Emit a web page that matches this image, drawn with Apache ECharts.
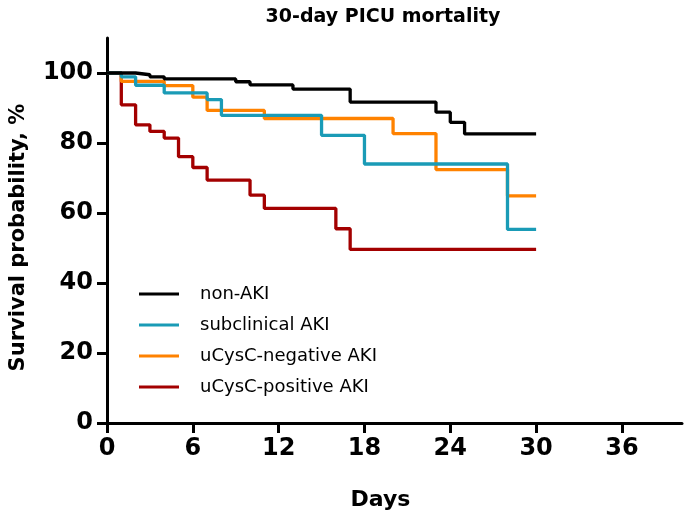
<!DOCTYPE html>
<html>
<head>
<meta charset="utf-8">
<script src="https://cdn.jsdelivr.net/npm/echarts@6/dist/echarts.min.js"></script>
<style>html,body{margin:0;padding:0;background:#fff}#c{width:685px;height:521px}</style>
</head>
<body>
<div id="c"></div>
<script>
// Kaplan-Meier step data: [day, survival %]
const nonAKI = [[0,100],[2,99.5],[3,98.9],[4,98.3],[9,97.5],[10,96.6],[13,95.4],[17,91.7],[23,88.8],[24,85.9],[25,82.6],[30,82.6]];
const subclinicalAKI = [[0,100],[1,98.9],[2,96.5],[4,94.3],[7,92.4],[8,87.9],[15,82.2],[18,74.0],[28,55.3],[30,55.3]];
const uCysCnegAKI = [[0,100],[1,97.6],[4,96.4],[6,93.1],[7,89.3],[11,87.0],[20,82.7],[23,72.4],[28,64.9],[30,64.9]];
const uCysCposAKI = [[0,100],[1,90.9],[2,85.2],[3,83.3],[4,81.4],[5,76.1],[6,73.0],[7,69.4],[10,65.1],[11,61.3],[16,55.5],[17,49.6],[30,49.6]];
const seriesNames = ['non-AKI','subclinical AKI','uCysC-negative AKI','uCysC-positive AKI'];
const xTicks = [0,6,12,18,24,30,36];
const yTicks = [0,20,40,60,80,100];

const colors = {'non-AKI':'#000000','subclinical AKI':'#1a9bb6','uCysC-negative AKI':'#ff8200','uCysC-positive AKI':'#a30000'};
const dataMap = {'non-AKI':nonAKI,'subclinical AKI':subclinicalAKI,'uCysC-negative AKI':uCysCnegAKI,'uCysC-positive AKI':uCysCposAKI};
const drawOrder = ['uCysC-positive AKI','uCysC-negative AKI','subclinical AKI','non-AKI'];

const chart = echarts.init(document.getElementById('c'), null, {renderer:'canvas'});
const bold = 'DejaVu Sans, sans-serif';
const reg = 'DejaVu Sans, sans-serif';
chart.setOption({
  animation:false,
  backgroundColor:'#fff',
  title:{text:'30-day PICU mortality',left:378,top:3,textAlign:'center',
    textStyle:{fontFamily:bold,fontWeight:'bold',fontSize:19,color:'#000'}},
  legend:{orient:'vertical',left:134,top:279,itemWidth:40,itemHeight:3,itemGap:11,
    icon:'rect',data:seriesNames,selectedMode:false,
    textStyle:{fontFamily:reg,fontSize:18,color:'#000',padding:[0,0,0,16],lineHeight:20}},
  grid:{left:103,right:3,top:38,bottom:98,containLabel:false},
  xAxis:{type:'value',min:0,max:40.2,
    name:'Days',nameLocation:'middle',nameGap:66,
    nameTextStyle:{fontFamily:bold,fontWeight:'bold',fontSize:22,color:'#000',padding:[0,28,0,0]},
    axisLine:{lineStyle:{color:'#000',width:3}},
    axisTick:{customValues:xTicks,length:10,lineStyle:{color:'#000',width:3}},
    axisLabel:{customValues:xTicks,margin:14,fontFamily:bold,fontWeight:'bold',fontSize:24,color:'#000'},
    splitLine:{show:false}},
  yAxis:{type:'value',min:0,max:110,
    name:'Survival probability, %',nameLocation:'middle',nameGap:78,
    nameTextStyle:{fontFamily:bold,fontWeight:'bold',fontSize:21,color:'#000',padding:[0,14,0,0]},
    axisLine:{lineStyle:{color:'#000',width:3}},
    axisTick:{customValues:yTicks,length:10,lineStyle:{color:'#000',width:3}},
    axisLabel:{customValues:yTicks,margin:14,fontFamily:bold,fontWeight:'bold',fontSize:24,color:'#000'},
    splitLine:{show:false}},
  series: drawOrder.map(n=>({name:n,type:'line',step:'end',data:dataMap[n],
    showSymbol:false,symbol:'none',color:colors[n],
    lineStyle:{color:colors[n],width:3.3},z:2}))
});
</script>
</body>
</html>
